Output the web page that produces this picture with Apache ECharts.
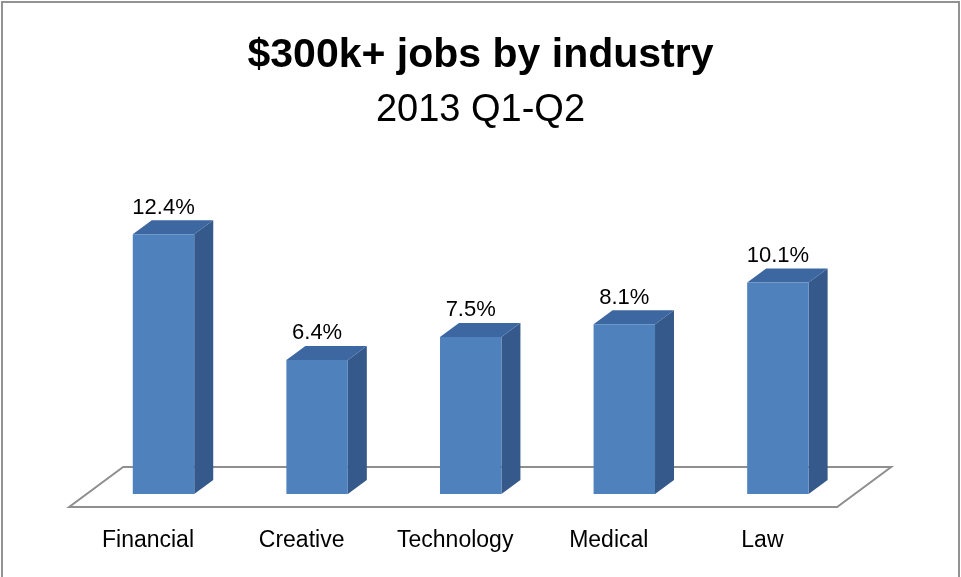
<!DOCTYPE html>
<html>
<head>
<meta charset="utf-8">
<script src="https://cdn.jsdelivr.net/npm/echarts@6/dist/echarts.min.js"></script>
<style>
  html, body { margin: 0; padding: 0; background: #ffffff; }
  #chart { width: 961px; height: 577px; }
</style>
</head>
<body>
<div id="chart"></div>
<script>
// Share of $300k+ job listings per industry, first half of 2013
const categories = ['Financial', 'Creative', 'Technology', 'Medical', 'Law'];
const shares = [12.4, 6.4, 7.5, 8.1, 10.1];
const titleText = '$300k+ jobs by industry';
const subtitleText = '2013 Q1-Q2';

const FONT = '"Liberation Sans", Arial, sans-serif';
// oblique projection used for the bar depth and the floor plate
const DX = 19, DY = 14;
const SLOPE = 1.35;           // horizontal shift per vertical pixel of depth
const FLOOR_FRONT = 13, FLOOR_BACK = 27;
const FACE = '#4F81BD', TOP = '#3D67A1', SIDE = '#35598A';

function renderFloor(params, api) {
  const cs = params.coordSys;
  const y0 = api.coord([0, 0])[1];
  const xl = cs.x, xr = cs.x + cs.width;
  const fy = y0 + FLOOR_FRONT, by = y0 - FLOOR_BACK;
  const fdx = -FLOOR_FRONT * SLOPE, bdx = FLOOR_BACK * SLOPE;
  return {
    type: 'polygon',
    shape: { points: [[xl + fdx, fy], [xr + fdx, fy], [xr + bdx, by], [xl + bdx, by]] },
    style: { fill: '#ffffff', stroke: '#8f8f8f', lineWidth: 2 }
  };
}

function renderBar(params, api) {
  const idx = api.value(0);
  const v = api.value(1);
  const top = api.coord([idx, v]);
  const base = api.coord([idx, 0]);
  const band = api.size([1, 0])[0];
  const w = band * 0.4;
  const xl = top[0] - w / 2, xr = top[0] + w / 2;
  const yt = top[1], yb = base[1];
  return {
    type: 'group',
    children: [
      { type: 'polygon', shape: { points: [[xr, yt], [xr, yb], [xr + DX, yb - DY], [xr + DX, yt - DY]] }, style: { fill: SIDE } },
      { type: 'polygon', shape: { points: [[xl, yt], [xr, yt], [xr + DX, yt - DY], [xl + DX, yt - DY]] }, style: { fill: TOP } },
      { type: 'rect', shape: { x: xl, y: yt, width: w, height: yb - yt }, style: { fill: FACE } },
      {
        type: 'text', x: top[0], y: yt - DY - 12.5,
        style: {
          text: v.toFixed(1) + '%', fill: '#000000', fontSize: 22, fontFamily: FONT,
          align: 'center', verticalAlign: 'middle'
        }
      }
    ]
  };
}

const chart = echarts.init(document.getElementById('chart'), null, { renderer: 'canvas' });
chart.setOption({
  animation: false,
  backgroundColor: '#ffffff',
  title: [
    {
      text: titleText, left: 'center', top: 29,
      textStyle: { fontFamily: FONT, fontWeight: 'bold', fontSize: 41, lineHeight: 44, color: '#000000' }
    },
    {
      text: subtitleText, left: 'center', top: 85.5,
      textStyle: { fontFamily: FONT, fontWeight: 'normal', fontSize: 38, lineHeight: 40, color: '#000000' }
    }
  ],
  grid: { left: 86.7, top: 179.75, width: 768, height: 314.25 },
  xAxis: {
    type: 'category',
    data: categories,
    axisLine: { show: false },
    axisTick: { show: false },
    axisLabel: {
      margin: 35.5, fontSize: 23, fontFamily: FONT, color: '#000000',
      lineHeight: 23, padding: [0, 31, 0, 0]
    }
  },
  yAxis: { type: 'value', min: 0, max: 15, show: false },
  graphic: [
    {
      type: 'rect', silent: true, z: -10,
      shape: { x: 2, y: 2, width: 957, height: 600 },
      style: { fill: 'none', stroke: '#929292', lineWidth: 2 }
    }
  ],
  series: [
    {
      type: 'custom', coordinateSystem: 'cartesian2d', z: 1,
      renderItem: renderFloor, data: [[0, 0]], silent: true
    },
    {
      type: 'custom', coordinateSystem: 'cartesian2d', z: 2,
      renderItem: renderBar,
      encode: { x: 0, y: 1 },
      data: categories.map((c, i) => [i, shares[i]])
    }
  ]
});
</script>
</body>
</html>
